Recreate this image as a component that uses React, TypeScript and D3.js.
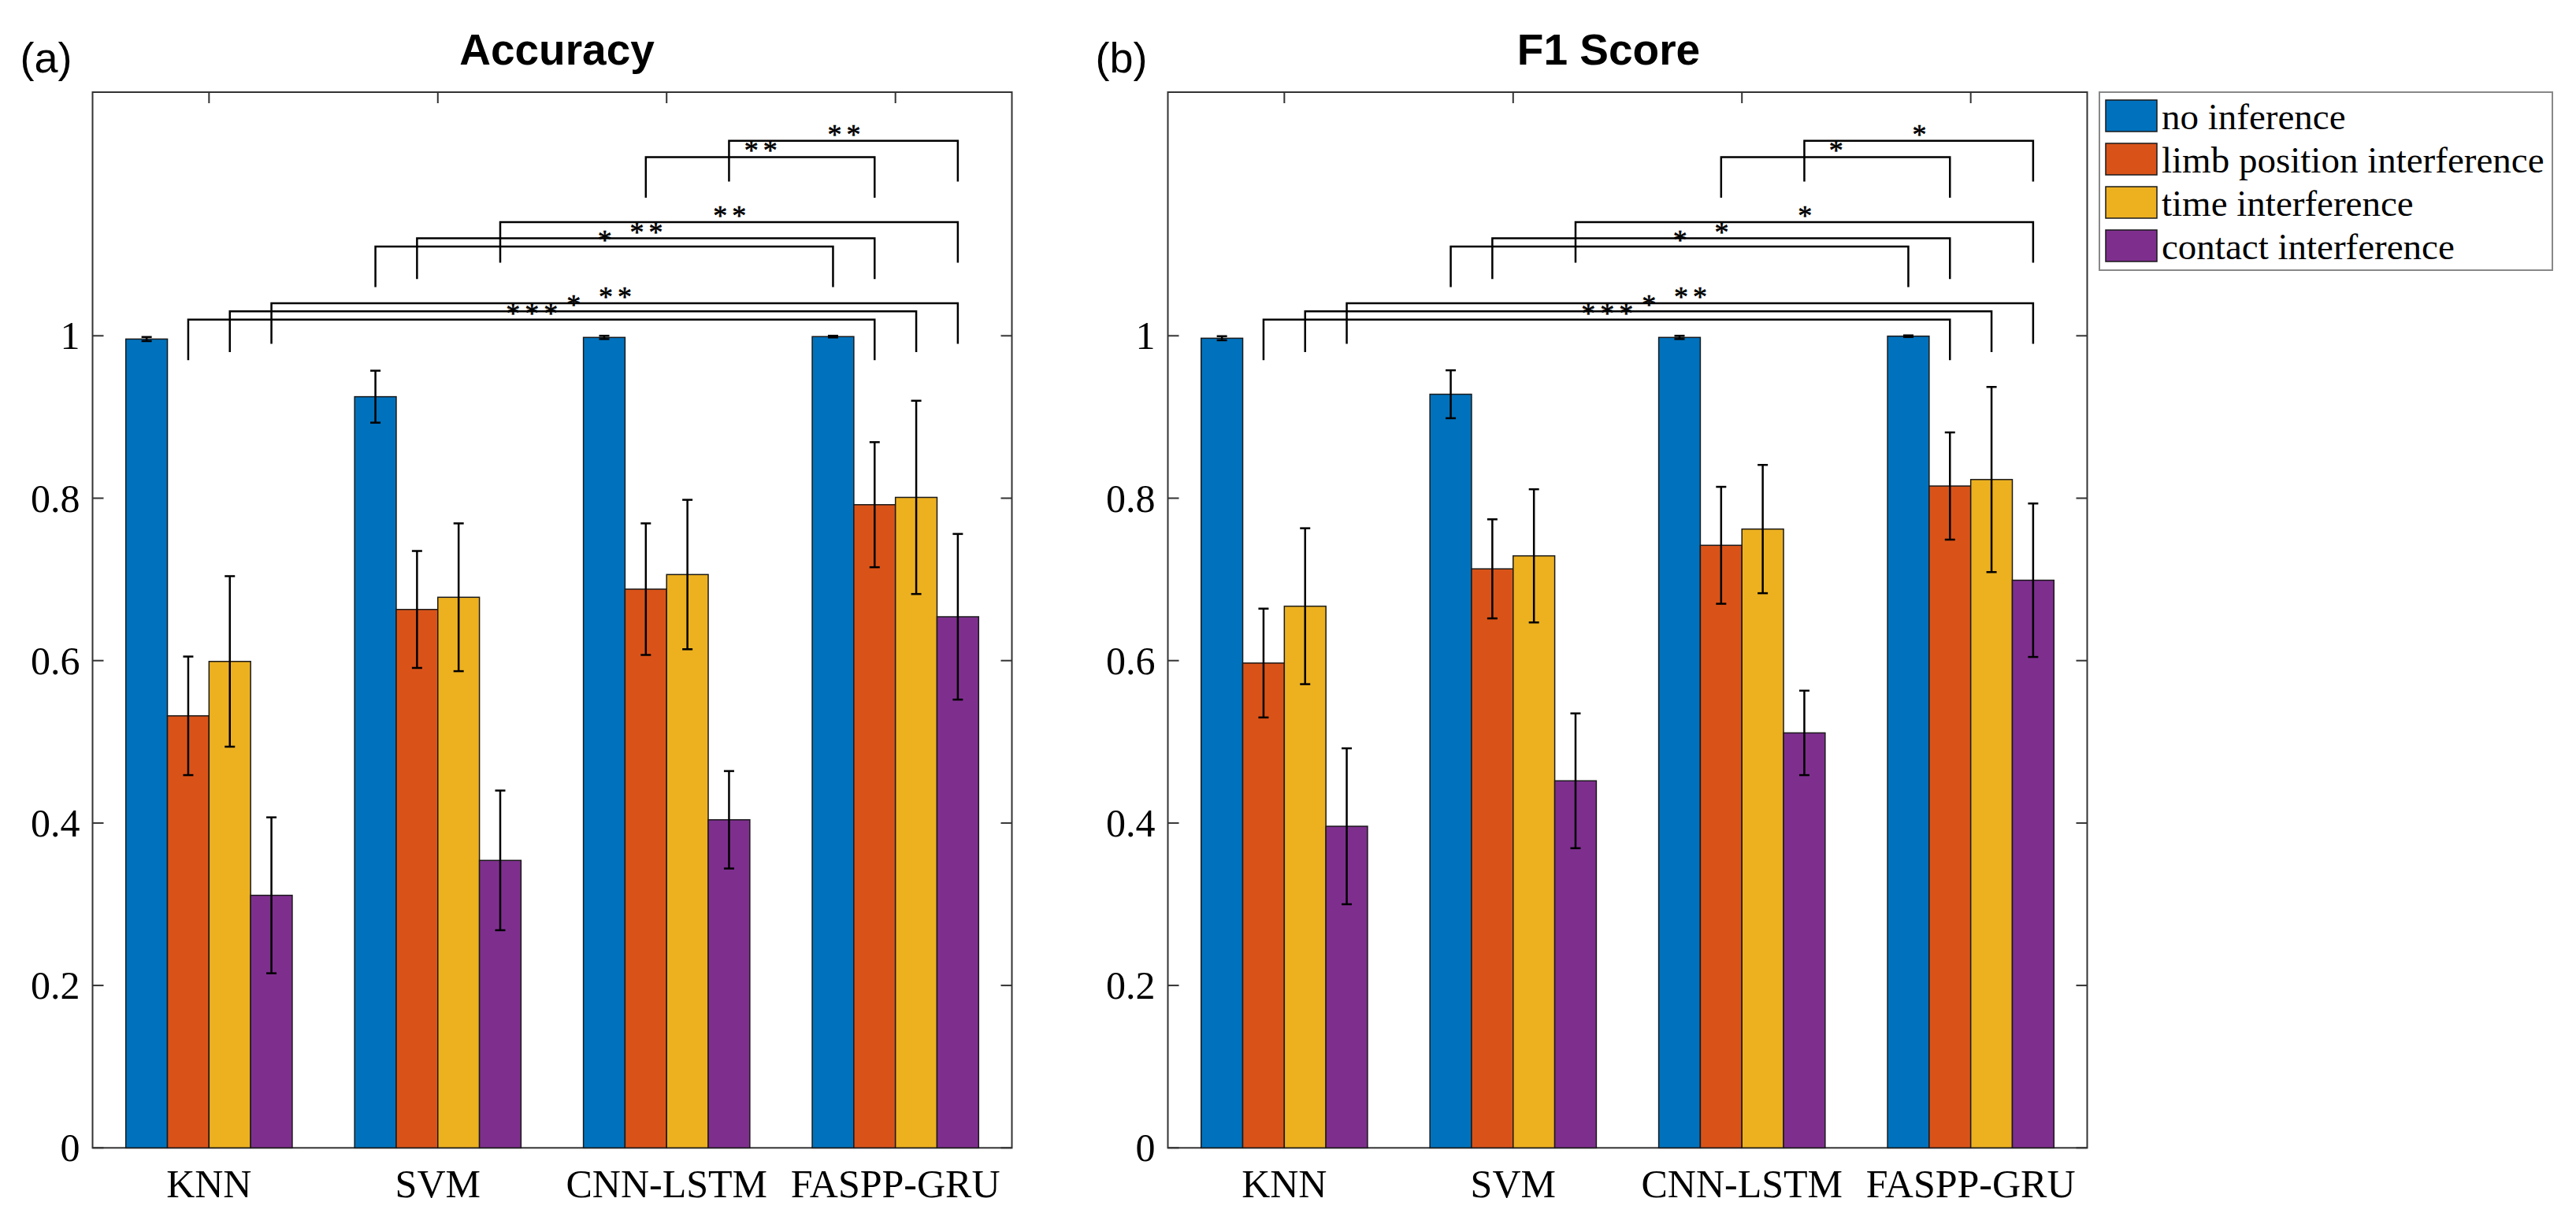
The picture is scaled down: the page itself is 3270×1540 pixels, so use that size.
import React from "react";
import * as d3 from "d3";

const categories = ["KNN", "SVM", "CNN-LSTM", "FASPP-GRU"];
const seriesNames = ["no inference", "limb position interference", "time interference", "contact interference"];
const colors = ["#0072BD", "#D95319", "#EDB120", "#7E2F8E"];
const yTicks = [0, 0.2, 0.4, 0.6, 0.8, 1];

// [category][series]
const accMean = [
  [0.996, 0.532, 0.599, 0.311],
  [0.925, 0.663, 0.678, 0.354],
  [0.998, 0.688, 0.706, 0.404],
  [0.999, 0.792, 0.801, 0.654],
];
const accErr = [
  [0.0025, 0.073, 0.105, 0.096],
  [0.032, 0.072, 0.091, 0.086],
  [0.002, 0.081, 0.092, 0.06],
  [0.001, 0.077, 0.119, 0.102],
];
const f1Mean = [
  [0.997, 0.597, 0.667, 0.396],
  [0.928, 0.713, 0.729, 0.452],
  [0.998, 0.742, 0.762, 0.511],
  [0.9995, 0.815, 0.823, 0.699],
];
const f1Err = [
  [0.0025, 0.067, 0.096, 0.096],
  [0.0295, 0.061, 0.082, 0.083],
  [0.002, 0.072, 0.079, 0.052],
  [0.001, 0.066, 0.114, 0.0945],
];

// significance brackets: from [category, series] to [FASPP-GRU, same series]
const bracketFrom = [[0, 1], [0, 2], [0, 3], [1, 0], [1, 1], [1, 3], [2, 1], [2, 3]];
const bracketLevel = [1.02, 1.03, 1.04, 1.11, 1.12, 1.14, 1.22, 1.24];
const accStars = ["***", "*", "**", "*", "**", "**", "**", "**"];
const f1Stars = ["***", "*", "**", "*", "*", "*", "*", "*"];

const W = 3270, H = 1540;
const TOP = 117, BOTTOM = 1457.3, AXW = 1167;
const serif = "'Liberation Serif', 'Times New Roman', serif";
const sans = "'Liberation Sans', Arial, sans-serif";

function Panel({ left, title, tag, titleX, means, errs, stars }: any) {
  const x = d3.scaleLinear().domain([0.491, 4.509]).range([left, left + AXW]);
  const y = d3.scaleLinear().domain([0, 1.3]).range([BOTTOM, TOP]);
  const groupW = 4 / 5.5;
  const bw = groupW / 4;
  const barCenter = (c: number, s: number) => c + 1 - groupW / 2 + bw * (s + 0.5);
  const right = left + AXW;
  const axisColor = "#333";
  return (
    <g>
      <text x={left - 92} y={92} fontFamily={sans} fontSize={54} fill="#000">{tag}</text>
      <text x={titleX} y={82} textAnchor="middle" fontFamily={sans} fontWeight="bold" fontSize={55} fill="#000">{title}</text>
      {/* axes box */}
      <rect x={left} y={TOP} width={AXW} height={BOTTOM - TOP} fill="#fff" stroke={axisColor} strokeWidth={2} />
      {yTicks.map((t) => (
        <g key={"yt" + t}>
          <line x1={left} x2={left + 14} y1={y(t)} y2={y(t)} stroke={axisColor} strokeWidth={2} />
          <line x1={right - 14} x2={right} y1={y(t)} y2={y(t)} stroke={axisColor} strokeWidth={2} />
          <text x={left - 16} y={y(t) + 17} textAnchor="end" fontFamily={serif} fontSize={50} fill="#000">{String(t)}</text>
        </g>
      ))}
      {categories.map((c, i) => (
        <g key={"xt" + c}>
          <line x1={x(i + 1)} x2={x(i + 1)} y1={TOP} y2={TOP + 14} stroke={axisColor} strokeWidth={2} />
          <line x1={x(i + 1)} x2={x(i + 1)} y1={BOTTOM} y2={BOTTOM - 14} stroke={axisColor} strokeWidth={2} />
          <text x={x(i + 1)} y={1520} textAnchor="middle" fontFamily={serif} fontSize={50} fill="#000">{c}</text>
        </g>
      ))}
      {/* bars */}
      {means.map((row: number[], ci: number) =>
        row.map((v: number, si: number) => {
          const xc = barCenter(ci, si);
          const x0 = x(xc - bw / 2), x1 = x(xc + bw / 2);
          return (
            <rect key={`b${ci}-${si}`} x={x0} y={y(v)} width={x1 - x0} height={y(0) - y(v)}
              fill={colors[si]} stroke="#1a1a1a" strokeWidth={1.5} />
          );
        })
      )}
      {/* error bars */}
      {means.map((row: number[], ci: number) =>
        row.map((v: number, si: number) => {
          const e = errs[ci][si];
          const px = x(barCenter(ci, si));
          const yt = y(v + e), yb = y(v - e);
          return (
            <g key={`e${ci}-${si}`} stroke="#000" strokeWidth={2.5}>
              <line x1={px} x2={px} y1={yt} y2={yb} />
              <line x1={px - 6.5} x2={px + 6.5} y1={yt} y2={yt} />
              <line x1={px - 6.5} x2={px + 6.5} y1={yb} y2={yb} />
            </g>
          );
        })
      )}
      {/* significance brackets */}
      {bracketFrom.map(([c, s], k) => {
        const xa = x(barCenter(c, s));
        const xb = x(barCenter(3, s));
        const yl = y(bracketLevel[k]);
        const yleg = y(bracketLevel[k] - 0.05);
        const label = stars[k].split("").join(" ");
        return (
          <g key={"br" + k}>
            <path d={`M${xa},${yleg}V${yl}H${xb}V${yleg}`} fill="none" stroke="#000" strokeWidth={2.5} />
            <text x={(xa + xb) / 2} y={yl + 4} textAnchor="middle" fontFamily={serif} fontSize={36}
              letterSpacing={-1.5} fill="#000" stroke="#000" strokeWidth={0.6}>{label}</text>
          </g>
        );
      })}
    </g>
  );
}

function Legend() {
  const lx = 2665, ly = 117, lw = 575, lh = 226;
  return (
    <g>
      <rect x={lx} y={ly} width={lw} height={lh} fill="#fff" stroke="#888" strokeWidth={2} />
      {seriesNames.map((n, i) => (
        <g key={n}>
          <rect x={2673} y={127 + i * 55} width={65} height={40} fill={colors[i]} stroke="#1a1a1a" strokeWidth={1.5} />
          <text x={2744} y={164 + i * 55} fontFamily={serif} fontSize={47} fill="#000">{n}</text>
        </g>
      ))}
    </g>
  );
}

export default function App() {
  return (
    <svg width={W} height={H} viewBox={`0 0 ${W} ${H}`} style={{ position: "absolute", left: 0, top: 0, background: "#fff" }}>
      <rect x={0} y={0} width={W} height={H} fill="#fff" />
      <Panel left={117.5} title="Accuracy" tag="(a)" titleX={707} means={accMean} errs={accErr} stars={accStars} />
      <Panel left={1482.5} title="F1 Score" tag="(b)" titleX={2042} means={f1Mean} errs={f1Err} stars={f1Stars} />
      <Legend />
    </svg>
  );
}
